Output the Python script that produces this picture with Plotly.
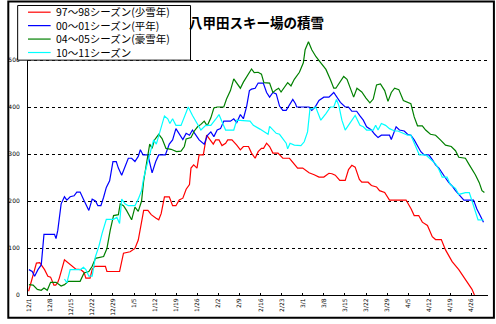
import plotly.graph_objects as go

# ---------------- data (day offset from 12/1, snow depth cm) ----------------
series_names = ["97〜98シーズン(少雪年)", "00〜01シーズン(平年)", "04〜05シーズン(豪雪年)", "10〜11シーズン"]
series_colors = ["#FF0000", "#0000FF", "#008000", "#00FFFF"]

red_days = [0, 2.6, 3.7, 5.3, 6.4, 7.3, 8.4, 9, 9.7, 10.2, 11.9, 14, 15.7, 17.3, 18.4, 19, 20.4, 21.1, 21.9, 25.5, 26, 30.2, 31.5, 33.7, 35.3, 36.4, 37.1, 38.2, 39.6, 40.7, 42.2, 43.2, 44, 45.1, 46.7, 47.8, 48.9, 50, 51.2, 52.3, 53.4, 53.9, 54.8, 55.9, 56.6, 58, 59.1, 60.2, 61.3, 62.1, 63.2, 64.2, 65.4, 66.1, 67.5, 69.1, 70.3, 71.3, 73, 74, 75.2, 76.2, 77.3, 78, 79, 80, 81.1, 82.8, 84.4, 86.6, 88.2, 89.3, 91, 93.1, 94.8, 96.4, 98, 99.7, 100.7, 101.8, 103.3, 105.1, 106.2, 107.3, 108.4, 109.8, 110.6, 112.7, 113.8, 115.5, 116.5, 118.2, 119.8, 125.3, 127, 128, 129.5, 130.7, 132.4, 134, 135.1, 137, 138.4, 140.6, 142.8, 145, 147.2, 148]
red_vals = [8, 68, 69, 54, 40, 38, 21, 21, 27, 36, 75, 65, 55, 54, 48, 36, 36, 54, 61, 61, 50, 50, 89, 92, 99, 117, 145, 180, 180, 171, 164, 160, 173, 209, 209, 190, 190, 202, 206, 225, 235, 270, 277, 270, 298, 298, 340, 330, 321, 330, 330, 318, 323, 330, 330, 319, 309, 316, 316, 302, 291, 305, 312, 312, 323, 316, 302, 302, 291, 291, 279, 270, 270, 260, 256, 251, 251, 259, 258, 255, 244, 244, 267, 276, 272, 246, 240, 240, 233, 230, 222, 218, 202, 202, 183, 169, 169, 155, 148, 124, 118, 118, 96, 71, 54, 33, 12, 0]

blue_days = [0.1, 1.2, 2, 3.1, 4.2, 5.1, 8.6, 9.1, 9.7, 10.8, 11.9, 12.7, 13.8, 15.1, 16, 17.1, 18.2, 19.3, 20, 21.1, 22.2, 23, 24, 24.9, 25.8, 26.9, 28, 29.1, 29.8, 30.9, 32, 33.1, 34.2, 35.3, 36.4, 37.1, 38, 39.6, 41, 42.2, 43.2, 45.4, 46.7, 47.8, 48.9, 50, 51.2, 52.3, 53.4, 54.4, 55.6, 56.6, 58.3, 59.3, 60.5, 61.5, 62.6, 63.7, 64.8, 67, 68.1, 69.1, 70.3, 71.3, 72.4, 73.3, 74, 75.2, 76.2, 77.9, 79, 80, 81.1, 82.2, 83.3, 84.4, 85.5, 86.6, 87.7, 88.6, 89, 93.1, 94, 95.1, 96.4, 98, 99.7, 101.3, 102.4, 103.5, 105.1, 106.2, 107.3, 108.9, 110, 111.1, 112.2, 113.8, 114.9, 116, 117.1, 119.8, 120.4, 121.5, 122, 123.1, 124.7, 125.8, 126.9, 128, 129.1, 130.2, 131.3, 132.9, 134, 135.1, 136.2, 137.3, 138.4, 139.5, 140.6, 141.7, 142.8, 144.5, 147.7, 148.8, 149.9, 151]
blue_vals = [54, 50, 40, 54, 64, 129, 129, 120, 138, 194, 209, 202, 209, 211, 219, 219, 204, 190, 180, 204, 200, 190, 190, 208, 229, 243, 284, 284, 270, 255, 274, 291, 291, 284, 295, 309, 298, 298, 260, 284, 298, 298, 321, 330, 354, 344, 331, 344, 340, 351, 340, 330, 321, 339, 347, 337, 351, 354, 370, 370, 375, 367, 384, 375, 402, 435, 438, 440, 451, 451, 431, 421, 431, 428, 402, 393, 393, 405, 416, 407, 400, 400, 393, 400, 414, 421, 421, 431, 421, 410, 400, 400, 391, 391, 381, 372, 358, 351, 342, 335, 340, 340, 331, 351, 358, 351, 349, 342, 340, 330, 316, 305, 298, 298, 288, 277, 270, 258, 249, 239, 232, 222, 214, 202, 202, 183, 169, 155]

green_days = [0.1, 1.5, 2.9, 4.2, 5.1, 6.2, 7.3, 9.1, 10.8, 11.9, 13.2, 17.1, 18.4, 20, 21.1, 22.2, 24.9, 26, 27.1, 28.2, 29.8, 30.4, 31.5, 32.5, 34.2, 35.3, 36.4, 37.5, 38.2, 39.3, 40.2, 41, 41.8, 43.2, 44.3, 45.6, 47.3, 49.1, 50.6, 51.7, 52.3, 53.9, 55, 56.1, 57.2, 58.3, 59.3, 60.5, 61.5, 62.6, 64.8, 65.7, 67, 68.1, 69.1, 70.3, 71.3, 72.6, 74, 74.9, 76.2, 77.3, 78.1, 80, 81.1, 82.2, 83, 83.8, 84.9, 86, 87.1, 88.2, 89.9, 91.2, 91.8, 92.9, 94, 95.4, 97, 98.7, 100.2, 101.3, 102, 103.5, 104.6, 105.7, 106.8, 107.9, 109, 110.6, 112, 113.3, 114.4, 115.5, 116.8, 118.2, 119.3, 120.4, 121.5, 122.9, 124.4, 125.8, 126.9, 128, 129.1, 130.7, 131.8, 133.4, 135.1, 136.7, 138.4, 140.3, 141.7, 142.8, 145, 146.3, 148.3, 149.6, 150.5, 151.3]
green_vals = [22, 21, 12, 10, 15, 10, 27, 27, 19, 22, 29, 29, 47, 50, 61, 78, 82, 99, 138, 169, 171, 194, 190, 180, 160, 187, 178, 200, 243, 284, 321, 312, 330, 342, 333, 312, 310, 305, 306, 316, 332, 335, 349, 358, 363, 370, 360, 377, 398, 400, 400, 417, 435, 460, 452, 440, 453, 466, 481, 473, 474, 470, 452, 451, 431, 437, 440, 432, 442, 452, 445, 459, 474, 494, 522, 539, 522, 507, 494, 480, 458, 440, 440, 456, 465, 459, 442, 421, 440, 432, 419, 409, 417, 447, 449, 435, 412, 431, 440, 437, 414, 410, 407, 379, 360, 360, 351, 342, 340, 330, 319, 316, 307, 293, 291, 277, 256, 239, 222, 218]

cyan_days = [11.9, 12.7, 13.8, 17.1, 18.2, 19, 20, 21.1, 22.2, 23.3, 24.4, 25.8, 28.2, 29.3, 30.2, 30.9, 32, 33.1, 35.3, 36.4, 37.5, 38.2, 39.3, 40.4, 41.5, 42.4, 43.5, 44.3, 45.1, 46.2, 46.9, 47.8, 48.9, 50.6, 51.7, 53, 54.4, 55.6, 57.2, 58.8, 60.5, 62.1, 63.2, 64.3, 65.4, 68.1, 69.1, 73.5, 74.6, 76.8, 78.4, 79.5, 80, 81.1, 82.2, 83.3, 84.4, 85.5, 86, 86.8, 88.2, 90.4, 91.5, 92.6, 93.4, 94.2, 95.3, 97, 98.7, 100.2, 101.3, 102.2, 103, 104, 105.1, 106.2, 107.3, 108.4, 110, 111.1, 112.2, 114.4, 115.2, 116, 117.1, 118.5, 119.8, 121.5, 122.6, 124.2, 125.8, 126.9, 127.7, 128.6, 129.7, 131.9, 133.5, 135.1, 136.2, 137.3, 138.9, 140, 141.7, 142.8, 145, 146.3, 147.2, 148.3, 149.2, 151]
cyan_vals = [34, 26, 54, 54, 59, 54, 40, 40, 82, 103, 131, 161, 161, 165, 152, 204, 194, 190, 190, 204, 222, 249, 277, 305, 330, 321, 344, 361, 381, 375, 365, 375, 361, 361, 379, 400, 382, 368, 351, 361, 361, 374, 384, 367, 351, 351, 372, 370, 361, 353, 346, 342, 359, 352, 344, 342, 333, 323, 311, 323, 319, 318, 326, 347, 396, 396, 400, 372, 386, 400, 400, 416, 403, 372, 351, 361, 372, 382, 361, 358, 351, 351, 361, 351, 365, 361, 354, 349, 349, 344, 340, 340, 328, 316, 298, 298, 288, 279, 267, 251, 251, 235, 227, 214, 218, 218, 200, 180, 160, 160]

tick_labels = ["12/1", "12/8", "12/15", "12/22", "12/29", "1/5", "1/12", "1/19", "1/26", "2/2", "2/9",
               "2/16", "2/23", "3/1", "3/8", "3/15", "3/22", "3/29", "4/5", "4/12", "4/19", "4/26"]
tick_days = [7 * i for i in range(len(tick_labels))]
y_ticks = [0, 100, 200, 300, 400, 500]

title_text = "八甲田スキー場の積雪"

# ---------------- layout geometry ----------------
W, H = 496, 324
L, R, T, B = 21, 8, 37, 25
PW, PH = W - L - R, H - T - B


def px2x(px):
    return (px - L) / PW


def py2y(py):
    return (H - B - py) / PH


fig = go.Figure()
all_days = [red_days, blue_days, green_days, cyan_days]
all_vals = [red_vals, blue_vals, green_vals, cyan_vals]
for name, color, d, v in zip(series_names, series_colors, all_days, all_vals):
    fig.add_trace(go.Scatter(x=d, y=v, mode="lines", name=name,
                             line=dict(color=color, width=1.2), showlegend=False))

jp = "Noto Sans CJK JP"
leg_font = 10.5
line_h = leg_font * 1.3
first_row = 11.8

shapes = []
annotations = []
# outer frame
shapes.append(dict(type="rect", xref="paper", yref="paper",
                   x0=px2x(1), x1=px2x(494), y0=py2y(1), y1=py2y(322),
                   line=dict(color="black", width=2), fillcolor="rgba(0,0,0,0)", layer="above"))
# legend box
shapes.append(dict(type="rect", xref="paper", yref="paper",
                   x0=px2x(10.5), x1=px2x(186), y0=py2y(5), y1=py2y(60.5),
                   line=dict(color="black", width=1), fillcolor="white", layer="above"))
row_y = [first_row + i * line_h for i in range(len(series_names))]
for color, ry in zip(series_colors, row_y):
    shapes.append(dict(type="line", xref="paper", yref="paper",
                       x0=px2x(21), x1=px2x(44), y0=py2y(ry), y1=py2y(ry),
                       line=dict(color=color, width=1.2), layer="above"))
annotations.append(dict(text="<br>".join(series_names), xref="paper", yref="paper",
                        x=px2x(48), y=py2y((row_y[0] + row_y[-1]) / 2),
                        xanchor="left", yanchor="middle", align="left", showarrow=False, borderpad=0,
                        font=dict(family=jp, size=leg_font, color="black")))
# title
annotations.append(dict(text="<b>" + title_text + "</b>", xref="paper", yref="paper",
                        x=px2x(253), y=py2y(22), xanchor="center", yanchor="middle",
                        showarrow=False, font=dict(family=jp, size=13.5, color="black")))

fig.update_layout(
    width=W, height=H,
    margin=dict(l=L, r=R, t=T, b=B, pad=0),
    paper_bgcolor="white", plot_bgcolor="white",
    showlegend=False,
    shapes=shapes, annotations=annotations,
    xaxis=dict(range=[-0.2, 152.5], tickmode="array", tickvals=tick_days, ticktext=tick_labels,
               tickangle=-90, tickfont=dict(family="DejaVu Sans", size=6, color="black"),
               ticks="inside", ticklen=2, tickcolor="black", showgrid=False, zeroline=False,
               showline=True, linecolor="black", linewidth=1),
    yaxis=dict(range=[0, 549], tickmode="array", tickvals=y_ticks,
               tickfont=dict(family="DejaVu Sans", size=6, color="black"),
               ticks="", showgrid=True, gridcolor="black", gridwidth=1, griddash="3px,3px",
               zeroline=False, showline=True, linecolor="black", linewidth=1,
               ticklabelstandoff=6),
)

fig.write_html("out.html")
